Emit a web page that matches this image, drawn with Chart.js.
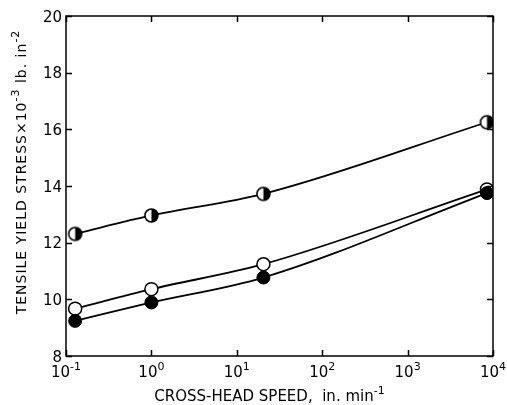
<!DOCTYPE html>
<html>
<head>
<meta charset="utf-8">
<script src="https://cdn.jsdelivr.net/npm/chart.js@4.4.1/dist/chart.umd.min.js"></script>
<style>
html, body { margin: 0; padding: 0; background: #fff; }
#wrap { width: 507px; height: 405px; }
</style>
</head>
<body>
<div id="wrap"><canvas id="yieldChart" width="507" height="405"></canvas></div>
<script>

// cross-head speed, in./min
const speeds = [0.128, 1, 20.5, 8500]

// tensile yield stress x 10^-3, lb/in^2
const halfFilled = [12.31, 12.96, 13.72, 16.25]
const openPts = [9.67, 10.36, 11.24, 13.88]
const filledPts = [9.24, 9.89, 10.77, 13.75]

// axis ticks
const xTicks = [0.1, 1, 10, 100, 1000, 10000]
const xTickExp = ["-1", "0", "1", "2", "3", "4"]
const yTicks = [8, 10, 12, 14, 16, 18, 20]

const FONT = "'DejaVu Sans', sans-serif"


// half black / half white circle marker
function halfMarker(r){
  const c = document.createElement("canvas")
  const s = Math.ceil(r*2 + 4)
  c.width = s
  c.height = s
  const g = c.getContext("2d")
  const m = s/2
  g.beginPath()
  g.arc(m, m, r, 0, Math.PI*2)
  g.fillStyle = "#fff"
  g.fill()
  g.beginPath()
  g.arc(m, m, r, -Math.PI/2, Math.PI/2)
  g.closePath()
  g.fillStyle = "#000"
  g.fill()
  g.beginPath()
  g.arc(m, m, r, 0, Math.PI*2)
  g.lineWidth = 1.6
  g.strokeStyle = "#000"
  g.stroke()
  return c
}

function toPoints(ys){
  return speeds.map((x, i) => ({x: x, y: ys[i]}))
}


// text with a raised exponent, pieces = [[text, isSup], ...]
function pieceWidth(ctx, pieces, size, supSize){
  let w = 0
  pieces.forEach(p => {
    ctx.font = (p[1] ? supSize : size) + "px " + FONT
    w += ctx.measureText(p[0]).width
  })
  return w
}

function drawPieces(ctx, pieces, x, y, size, supSize, rise){
  let cx = x
  pieces.forEach(p => {
    ctx.font = (p[1] ? supSize : size) + "px " + FONT
    ctx.fillText(p[0], cx, p[1] ? y - rise : y)
    cx += ctx.measureText(p[0]).width
  })
}


const framePlugin = {
  id: "frame",
  afterDraw(chart){
    const ctx = chart.ctx
    const a = chart.chartArea
    const xs = chart.scales.x
    const ys = chart.scales.y
    const tick = 6

    ctx.save()
    ctx.strokeStyle = "#000"
    ctx.fillStyle = "#000"
    ctx.lineWidth = 1.5
    ctx.strokeRect(a.left, a.top, a.right - a.left, a.bottom - a.top)

    // inward tick marks
    ctx.beginPath()
    xs.ticks.forEach(t => {
      const px = Math.round(xs.getPixelForValue(t.value)) + 0.5
      ctx.moveTo(px, a.bottom)
      ctx.lineTo(px, a.bottom - tick)
      ctx.moveTo(px, a.top)
      ctx.lineTo(px, a.top + tick)
    })
    ys.ticks.forEach(t => {
      const py = Math.round(ys.getPixelForValue(t.value)) + 0.5
      ctx.moveTo(a.left, py)
      ctx.lineTo(a.left + tick, py)
      ctx.moveTo(a.right, py)
      ctx.lineTo(a.right - tick, py)
    })
    ctx.stroke()

    ctx.textBaseline = "alphabetic"
    ctx.textAlign = "left"

    // x tick labels
    xs.ticks.forEach((t, i) => {
      const px = xs.getPixelForValue(t.value)
      const pieces = [["10", false], [xTickExp[i], true]]
      const w = pieceWidth(ctx, pieces, 15, 11)
      drawPieces(ctx, pieces, px - w/2, a.bottom + 21, 15, 11, 7)
    })

    // y tick labels
    ctx.textAlign = "right"
    ctx.font = "15px " + FONT
    ys.ticks.forEach(t => {
      const py = ys.getPixelForValue(t.value)
      ctx.fillText(String(t.value), a.left - 4, py + 5.5)
    })
    ctx.textAlign = "left"

    // x axis title
    const xt = [["CROSS-HEAD SPEED,  in. min", false], ["-1", true]]
    const xw = pieceWidth(ctx, xt, 15, 11)
    drawPieces(ctx, xt, (a.left + a.right)/2 - xw/2 - 10, a.bottom + 45, 15, 11, 7)

    // y axis title, rotated, letters spaced out
    ctx.letterSpacing = "1px"
    const yt = [["TENSILE YIELD STRESS\u00d710", false], ["-3", true], [" lb. in", false], ["-2", true]]
    const yw = pieceWidth(ctx, yt, 14, 11)
    ctx.translate(26, 172)
    ctx.rotate(-Math.PI/2)
    drawPieces(ctx, yt, -yw/2, 0, 14, 11, 7)

    ctx.restore()
  }
}


const ctx = document.getElementById("yieldChart").getContext("2d")

const lineStyle = {
  borderColor: "#000",
  borderWidth: 1.8,
  cubicInterpolationMode: "monotone",
  pointRadius: 6.5
}

const chart = new Chart(ctx, {
  type: "line",
  data: {
    datasets: [
      Object.assign({
        label: "filled",
        data: toPoints(filledPts),
        pointStyle: "circle",
        pointBackgroundColor: "#000",
        pointBorderColor: "#000",
        pointBorderWidth: 1
      }, lineStyle),
      Object.assign({
        label: "open",
        data: toPoints(openPts),
        pointStyle: "circle",
        pointBackgroundColor: "#fff",
        pointBorderColor: "#000",
        pointBorderWidth: 1.5
      }, lineStyle),
      Object.assign({
        label: "half",
        data: toPoints(halfFilled),
        pointStyle: halfMarker(6.5)
      }, lineStyle)
    ]
  },
  options: {
    responsive: false,
    animation: false,
    layout: {
      padding: {left: 66, right: 14, top: 16, bottom: 49}
    },
    plugins: {
      legend: {display: false},
      tooltip: {enabled: false}
    },
    scales: {
      x: {
        type: "logarithmic",
        min: 0.1,
        max: 10000,
        afterBuildTicks: axis => {
          axis.ticks = xTicks.map(v => ({value: v}))
        },
        ticks: {display: false},
        grid: {display: false, drawTicks: false},
        border: {display: false}
      },
      y: {
        min: 8,
        max: 20,
        afterBuildTicks: axis => {
          axis.ticks = yTicks.map(v => ({value: v}))
        },
        ticks: {display: false},
        grid: {display: false, drawTicks: false},
        border: {display: false}
      }
    }
  },
  plugins: [framePlugin]
})

</script>
</body>
</html>
